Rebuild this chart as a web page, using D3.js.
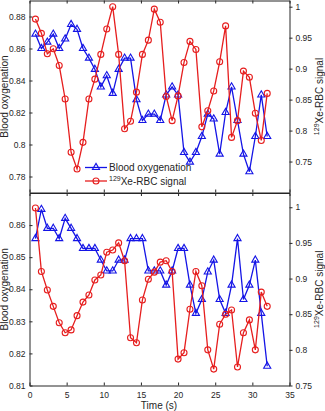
<!DOCTYPE html>
<html>
<head>
<meta charset="utf-8">
<script src="https://cdn.jsdelivr.net/npm/d3@7"></script>
<style>
  body { margin: 0; background: #fff; }
  text { font-family: "Liberation Sans", Arial, sans-serif; fill: #262626; }
</style>
</head>
<body>
<script>
// time points (s)
var time = [0.8, 1.6, 2.4, 3.2, 4.0, 4.8, 5.6, 6.4, 7.2, 8.0,
            8.8, 9.6, 10.4, 11.2, 12.0, 12.8, 13.6, 14.4, 15.2, 16.0,
            16.8, 17.6, 18.4, 19.2, 20.0, 20.8, 21.6, 22.4, 23.2, 24.0,
            24.8, 25.6, 26.4, 27.2, 28.0, 28.8, 29.6, 30.4, 31.2, 32.0];

// top panel
var oxyTop = [0.869, 0.860, 0.864, 0.869, 0.860, 0.866, 0.875, 0.872, 0.860, 0.854,
              0.847, 0.836, 0.843, 0.832, 0.847, 0.854, 0.854, 0.828, 0.815, 0.819,
              0.819, 0.815, 0.831, 0.836, 0.831, 0.795, 0.789, 0.795, 0.805, 0.819,
              0.816, 0.794, 0.820, 0.836, 0.815, 0.794, 0.783, 0.805, 0.831, 0.805];
var rbcTop = [0.980, 0.957, 0.924, 0.932, 0.905, 0.851, 0.765, 0.738, 0.781, 0.851,
              0.883, 0.923, 0.964, 1.000, 0.923, 0.803, 0.815, 0.862, 0.923, 0.946,
              0.996, 0.975, 0.855, 0.816, 0.856, 0.910, 0.944, 0.931, 0.806, 0.832,
              0.864, 0.911, 0.969, 0.789, 0.816, 0.896, 0.886, 0.828, 0.784, 0.860];

// bottom panel
var oxyBot = [0.8558, 0.8649, 0.859, 0.859, 0.8558, 0.8621, 0.859, 0.8558, 0.8527, 0.8527,
              0.8527, 0.8491, 0.8457, 0.8457, 0.8491, 0.8491, 0.8558, 0.8558, 0.8558, 0.8457,
              0.8457, 0.8457, 0.8413, 0.8457, 0.8527, 0.8527, 0.8413, 0.8325, 0.8368, 0.8454,
              0.8491, 0.8368, 0.8325, 0.8413, 0.8558, 0.8368, 0.8413, 0.8491, 0.8325, 0.816];
var rbcBot = [0.999, 0.910, 0.884, 0.861, 0.838, 0.824, 0.828, 0.848, 0.867, 0.877,
              0.898, 0.905, 0.937, 0.940, 0.950, 0.925, 0.817, 0.810, 0.870, 0.899,
              0.909, 0.923, 0.925, 0.910, 0.787, 0.796, 0.857, 0.910, 0.890, 0.800,
              0.773, 0.836, 0.850, 0.856, 0.776, 0.824, 0.842, 0.800, 0.881, 0.861];

var xTicks = [0, 5, 10, 15, 20, 25, 30, 35];
var leftTicksTop = [0.78, 0.80, 0.82, 0.84, 0.86, 0.88];
var rightTicksTop = [0.75, 0.80, 0.85, 0.90, 0.95, 1.00];
var leftTicksBot = [0.81, 0.82, 0.83, 0.84, 0.85, 0.86];
var rightTicksBot = [0.75, 0.80, 0.85, 0.90, 0.95, 1.00];

var width = 325, height = 411;
var blue = "#1414e6", red = "#e61e1e";
var fmt = function(d) { return String(+d.toFixed(2)); };

var svg = d3.select("body").append("svg")
    .attr("width", width)
    .attr("height", height);

var x = d3.scaleLinear().domain([0, 35]).range([29.5, 289.5]);

var panels = [
  {top: 0.5, bottom: 192.5, left: [0.77, 0.89], right: [0.70, 1.01],
   lt: leftTicksTop, rt: rightTicksTop, oxy: oxyTop, rbc: rbcTop, labels: false},
  {top: 193, bottom: 385.5, left: [0.81, 0.87], right: [0.75, 1.02],
   lt: leftTicksBot, rt: rightTicksBot, oxy: oxyBot, rbc: rbcBot, labels: true}
];

panels.forEach(function(p, i) {
  var yL = d3.scaleLinear().domain(p.left).range([p.bottom, p.top]);
  var yR = d3.scaleLinear().domain(p.right).range([p.bottom, p.top]);
  var g = svg.append("g");

  // x axes (bottom and mirrored top), ticks inward
  var xb = g.append("g").attr("transform", "translate(0," + p.bottom + ")")
      .call(d3.axisBottom(x).tickValues(xTicks).tickSizeInner(-3).tickSizeOuter(0)
        .tickPadding(6).tickFormat(p.labels ? d3.format("d") : ""));
  var xt = g.append("g").attr("transform", "translate(0," + p.top + ")")
      .call(d3.axisTop(x).tickValues(xTicks).tickSizeInner(-3).tickSizeOuter(0).tickFormat(""));

  var yl = g.append("g").attr("transform", "translate(" + x(0) + ",0)")
      .call(d3.axisLeft(yL).tickValues(p.lt).tickSizeInner(-3).tickSizeOuter(0)
        .tickPadding(4).tickFormat(fmt));
  var yr = g.append("g").attr("transform", "translate(" + x(35) + ",0)")
      .call(d3.axisRight(yR).tickValues(p.rt).tickSizeInner(3).tickSizeOuter(0)
        .tickPadding(3).tickFormat(fmt));

  [xb, xt, yl, yr].forEach(function(a) {
    a.select(".domain").attr("stroke", "#262626").attr("stroke-width", 1);
    a.selectAll(".tick line").attr("stroke", "#262626");
    a.selectAll("text").style("font-size", "8.5px").attr("fill", "#4d4d4d");
  });

  var line = function(ys, vals) {
    return d3.line().x(function(d, j) { return x(time[j]); })
      .y(function(d) { return ys(d); })(vals);
  };

  // blood oxygenation
  g.append("path").attr("d", line(yL, p.oxy))
    .attr("fill", "none").attr("stroke", blue).attr("stroke-width", 1.3);
  g.selectAll(".tri").data(p.oxy).enter().append("path")
    .attr("d", d3.symbol().type(d3.symbolTriangle).size(22))
    .attr("transform", function(d, j) { return "translate(" + x(time[j]) + "," + yL(d) + ")"; })
    .attr("fill", "none").attr("stroke", blue).attr("stroke-width", 1.1);

  // 129Xe-RBC signal
  g.append("path").attr("d", line(yR, p.rbc))
    .attr("fill", "none").attr("stroke", red).attr("stroke-width", 1.3);
  g.selectAll(".circ").data(p.rbc).enter().append("circle")
    .attr("cx", function(d, j) { return x(time[j]); })
    .attr("cy", function(d) { return yR(d); })
    .attr("r", 3).attr("fill", "none").attr("stroke", red).attr("stroke-width", 1.1);

  // axis titles
  var cy = (p.top + p.bottom) / 2;
  g.append("text").attr("transform", "translate(8," + cy + ") rotate(-90)")
    .attr("text-anchor", "middle").style("font-size", "10px")
    .text("Blood oxygenation");
  var rt = g.append("text").attr("transform", "translate(323," + cy + ") rotate(-90)")
    .attr("text-anchor", "middle").style("font-size", "10px");
  rt.append("tspan").attr("dy", "-4").style("font-size", "7px").text("129");
  rt.append("tspan").attr("dy", "4").text("Xe-RBC signal");
});

// x label
svg.append("text").attr("x", 159).attr("y", 409).attr("text-anchor", "middle")
  .style("font-size", "10px").text("Time (s)");

// legend
var leg = svg.append("g");
var lx0 = 85, lx1 = 107, ly1 = 167.5, ly2 = 181;
leg.append("line").attr("x1", lx0).attr("x2", lx1).attr("y1", ly1).attr("y2", ly1)
  .attr("stroke", blue).attr("stroke-width", 1.3);
leg.append("path").attr("d", d3.symbol().type(d3.symbolTriangle).size(22))
  .attr("transform", "translate(" + (lx0 + lx1) / 2 + "," + ly1 + ")")
  .attr("fill", "none").attr("stroke", blue).attr("stroke-width", 1.1);
leg.append("text").attr("x", 109).attr("y", ly1 + 3.5).style("font-size", "10px")
  .text("Blood oxygenation");
leg.append("line").attr("x1", lx0).attr("x2", lx1).attr("y1", ly2).attr("y2", ly2)
  .attr("stroke", red).attr("stroke-width", 1.3);
leg.append("circle").attr("cx", (lx0 + lx1) / 2).attr("cy", ly2).attr("r", 3)
  .attr("fill", "none").attr("stroke", red).attr("stroke-width", 1.1);
var lt2 = leg.append("text").attr("x", 109).attr("y", ly2 + 3.5).style("font-size", "10px");
lt2.append("tspan").attr("dy", "-4").style("font-size", "7px").text("129");
lt2.append("tspan").attr("dy", "4").text("Xe-RBC signal");
</script>
</body>
</html>
